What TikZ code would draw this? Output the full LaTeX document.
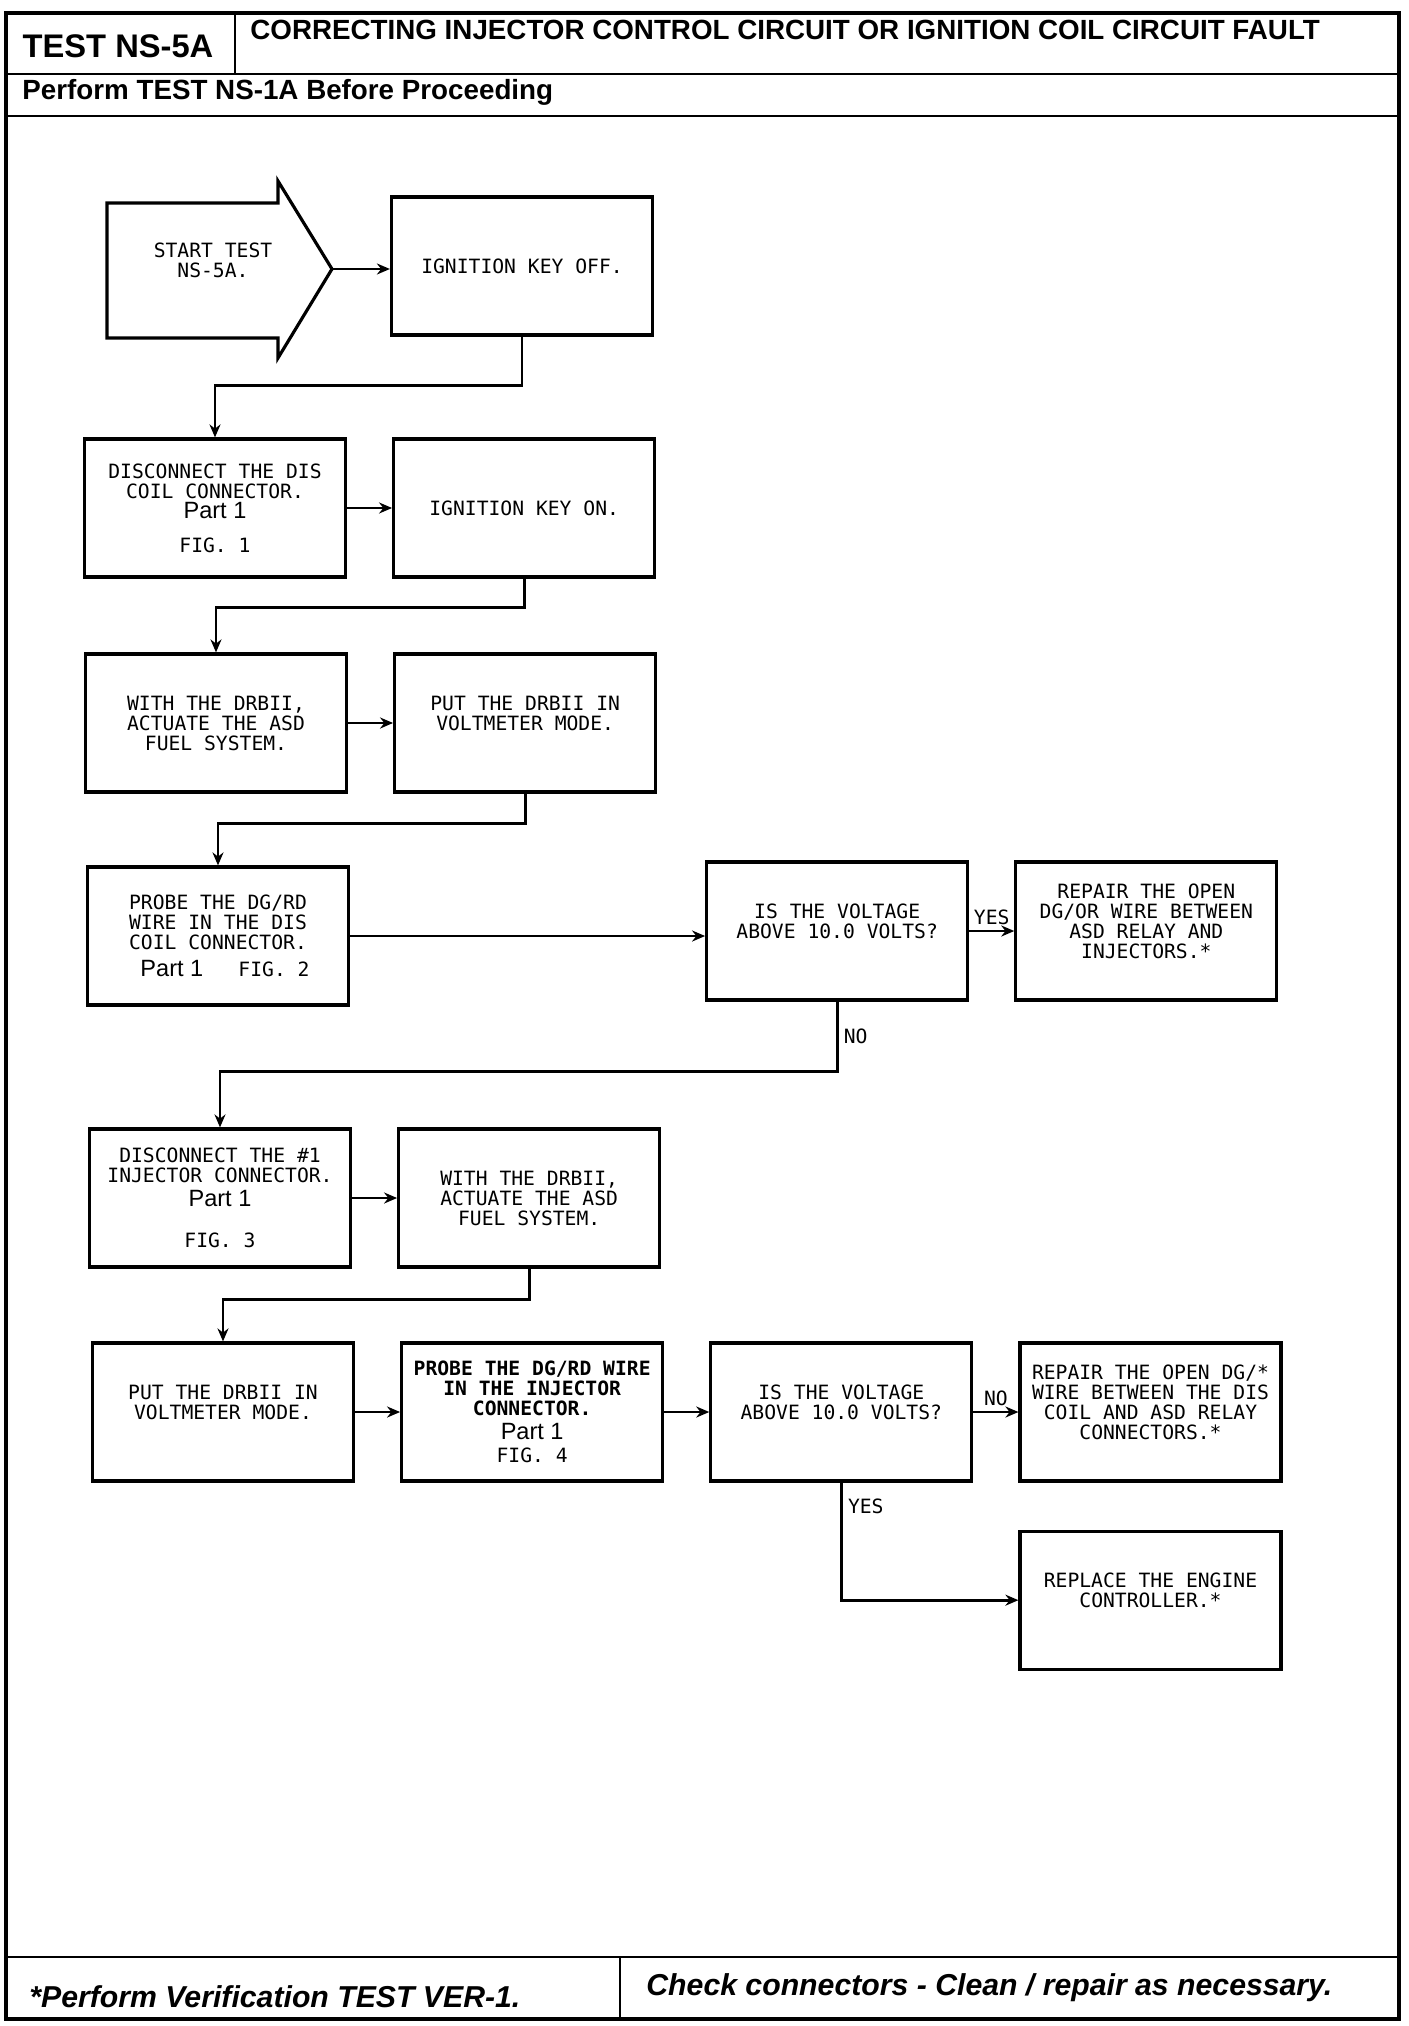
\documentclass[tikz,border=0pt]{standalone}
\usepackage{fontspec}
\setmainfont{Liberation Sans}
\newfontfamily\plotfont{DejaVu Sans Mono}
\usetikzlibrary{arrows.meta,positioning}
\newcommand{\partone}{{\normalfont\fontsize{6.7}{7}\selectfont Part 1}}

\begin{document}
\begin{tikzpicture}[>={Stealth[length=1.3mm,width=1.1mm]}, line width=0.8pt,
  stepbox/.style={draw, line width=0.9pt, minimum width=2.61cm, minimum height=1.38cm, inner sep=1pt, align=center, font=\plotfont\fontsize{5.6}{5.7}\selectfont},
  lbl/.style={font=\plotfont\fontsize{5.6}{5.7}\selectfont, inner sep=1.5pt},
  hdr/.style={font=\bfseries\fontsize{7.9}{9}\selectfont, inner sep=0pt},
  ftr/.style={font=\bfseries\itshape\fontsize{8.6}{10}\selectfont, inner sep=0pt}]
\useasboundingbox (0,0) rectangle (14.08,-20.26);
% page frame and header / footer
\draw[line width=0.9pt] (0.06,-0.13) rectangle (13.99,-20.19);
\draw (0.06,-0.74) -- (13.99,-0.74); \draw (0.06,-1.16) -- (13.99,-1.16);
\draw (2.35,-0.13) -- (2.35,-0.74);
\draw (0.06,-19.57) -- (13.99,-19.57); \draw (6.20,-19.57) -- (6.20,-20.19);
\node[hdr, font=\bfseries\fontsize{9.3}{11}\selectfont] (testno) at (1.18,-0.46) {TEST NS-5A};
\node[hdr, anchor=west] (title) at (2.49,-0.30) {CORRECTING INJECTOR CONTROL CIRCUIT OR IGNITION COIL CIRCUIT FAULT};
\node[hdr, anchor=west] (before) at (0.21,-0.92) {Perform TEST NS-1A Before Proceeding};
\node[ftr, anchor=west] (verify) at (0.28,-19.97) {*Perform Verification TEST VER-1.};
\node[ftr, anchor=west] (clean) at (6.45,-19.88) {Check connectors - Clean / repair as necessary.};
% start arrow
\draw[line width=0.9pt] (1.07,-2.03) -- (2.78,-2.03) -- (2.78,-1.81) -- (3.32,-2.69) -- (2.78,-3.58) -- (2.78,-3.38) -- (1.07,-3.38) -- cycle;
\node[lbl, align=center] (start) at (2.13,-2.60) {START TEST\\NS-5A.};
\coordinate (starttip) at (3.32,-2.69);
% steps
\node[stepbox] (keyoff) at (5.22,-2.66) {IGNITION KEY OFF.};
\node[stepbox] (disc) at (2.15,-5.08) {DISCONNECT THE DIS\\COIL CONNECTOR.\\\partone\\[4pt]FIG. 1};
\node[stepbox, right=0.45cm of disc] (keyon) {IGNITION KEY ON.};
\node[stepbox] (with1) at (2.16,-7.23) {WITH THE DRBII,\\ACTUATE THE ASD\\FUEL SYSTEM.};
\node[stepbox, right=0.45cm of with1] (put1) {PUT THE DRBII IN\\VOLTMETER MODE.\\{}};
\node[stepbox] (probe1) at (2.18,-9.36) {PROBE THE DG/RD\\WIRE IN THE DIS\\COIL CONNECTOR.\\[2pt]\hspace{4pt}\partone\hspace{10pt}FIG. 2};
\node[stepbox, right=3.55cm of probe1, yshift=0.05cm] (is1) {IS THE VOLTAGE\\ABOVE 10.0 VOLTS?\\{}};
\node[stepbox, right=0.45cm of is1] (rep1) {REPAIR THE OPEN\\DG/OR WIRE BETWEEN\\ASD RELAY AND\\INJECTORS.*\\{}};
\node[stepbox] (disc1) at (2.20,-11.98) {DISCONNECT THE \#1\\INJECTOR CONNECTOR.\\[1pt]\partone\\[6pt]FIG. 3};
\node[stepbox, right=0.45cm of disc1] (with2) {WITH THE DRBII,\\ACTUATE THE ASD\\FUEL SYSTEM.};
\node[stepbox] (put2) at (2.23,-14.12) {PUT THE DRBII IN\\VOLTMETER MODE.\\{}};
\node[stepbox, right=0.45cm of put2] (probe2) {\textbf{PROBE THE DG/RD WIRE}\\\textbf{IN THE INJECTOR}\\\textbf{CONNECTOR.}\\[1pt]\partone\\[1pt]FIG. 4};
\node[stepbox, right=0.45cm of probe2] (is2) {IS THE VOLTAGE\\ABOVE 10.0 VOLTS?\\{}};
\node[stepbox, right=0.45cm of is2] (rep2) {REPAIR THE OPEN DG/*\\WIRE BETWEEN THE DIS\\COIL AND ASD RELAY\\CONNECTORS.*\\{}};
\node[stepbox, below=0.47cm of rep2] (repl) {REPLACE THE ENGINE\\CONTROLLER.*\\{}};
% flow
\draw[->] (starttip) -- (keyoff.west |- starttip);
\draw[->] (keyoff.south) -- ++(0,-0.49) -| (disc.north);
\draw[->] (disc) -- (keyon);
\draw[->] (keyon.south) -- ++(0,-0.29) -| (with1.north);
\draw[->] (with1) -- (put1);
\draw[->] (put1.south) -- ++(0,-0.30) -| (probe1.north);
\draw[->] (probe1) -- (probe1 -| is1.west);
\draw[->] (is1) -- node[lbl, above]{YES} (rep1);
\draw[->] (is1.south) -- node[lbl, right]{NO} ++(0,-0.70) -| (disc1.north);
\draw[->] (disc1) -- (with2);
\draw[->] (with2.south) -- ++(0,-0.31) -| (put2.north);
\draw[->] (put2) -- (probe2); \draw[->] (probe2) -- (is2);
\draw[->] (is2) -- node[lbl, above]{NO} (rep2);
\draw[->] (is2.south) |- node[lbl, right, pos=0.1]{YES} (repl.west);
\end{tikzpicture}
\end{document}
